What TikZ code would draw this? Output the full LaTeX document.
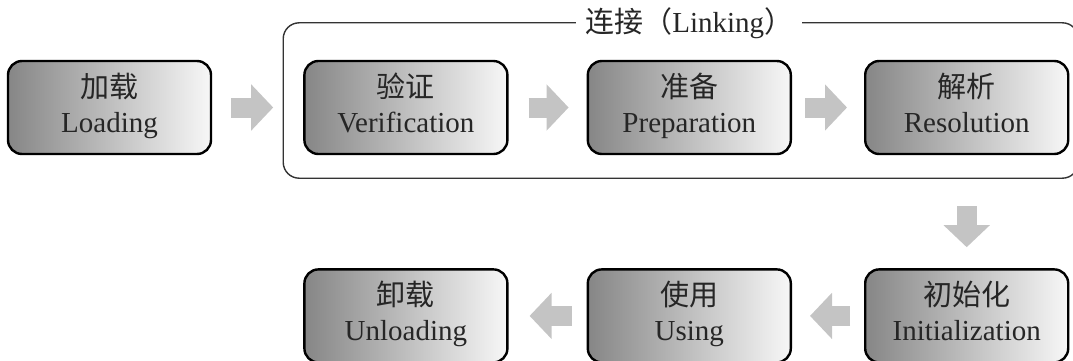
\documentclass[tikz,border=0pt]{standalone}
\usepackage{fontspec}
\usepackage{xcolor}
\setmainfont{Liberation Serif}
\newfontfamily\cjk{Noto Sans CJK SC}
\usetikzlibrary{positioning,arrows.meta}
\definecolor{boxdark}{HTML}{868686}
\definecolor{boxlight}{HTML}{F7F7F7}
\definecolor{arrowgray}{HTML}{C4C4C4}
\newcommand{\stagetext}[2]{{\cjk #1}\strut\\#2\strut}

\begin{document}
\begin{tikzpicture}[x=1pt, y=1pt,
    stage/.style={draw, line width=2.4pt, rounded corners=14pt, minimum width=203pt, minimum height=93pt, left color=boxdark, right color=boxlight, align=center, text=black!85, font=\fontsize{29}{35}\selectfont},
    flow/.style={draw=arrowgray, line width=20pt, -{Triangle[length=22pt, width=45pt]}},
    linkframe/.style={draw=black!80, line width=1.4pt, rounded corners=16pt}]
    \useasboundingbox (0,0) rectangle (1073,-361);
    \node[stage] (load) at (109.5,-107.5) {\stagetext{加载}{Loading}};
    \node[stage, right=91pt of load] (verify) {\stagetext{验证}{Verification}};
    \node[stage, right=78pt of verify] (prep) {\stagetext{准备}{Preparation}};
    \node[stage, right=72pt of prep] (resol) {\stagetext{解析}{Resolution}};
    \node[stage, below=113pt of resol] (init) {\stagetext{初始化}{Initialization}};
    \node[stage, left=72pt of init] (using) {\stagetext{使用}{Using}};
    \node[stage, left=78pt of using] (unload) {\stagetext{卸载}{Unloading}};
    \draw[linkframe] ([shift={(-20pt,37pt)}]verify.north west) rectangle ([shift={(9pt,-23pt)}]resol.south east);
    \node[fill=white, inner xsep=9pt, inner ysep=1pt, text=black!85, font=\fontsize{29}{35}\selectfont] (linklabel) at ([yshift=37pt]prep.north) {{\cjk 连接（}Linking{\cjk ）}};
    \draw[flow] ([xshift=19pt]load.east) -- ([xshift=-30pt]verify.west);
    \draw[flow] ([xshift=20pt]verify.east) -- ([xshift=-18pt]prep.west);
    \draw[flow] ([xshift=13pt]prep.east) -- ([xshift=-17pt]resol.west);
    \draw[flow] ([yshift=-51pt]resol.south) -- ([yshift=21pt]init.north);
    \draw[flow] ([xshift=-14pt]init.west) -- ([xshift=18pt]using.east);
    \draw[flow] ([xshift=-15pt]using.west) -- ([xshift=21pt]unload.east);
\end{tikzpicture}
\end{document}
